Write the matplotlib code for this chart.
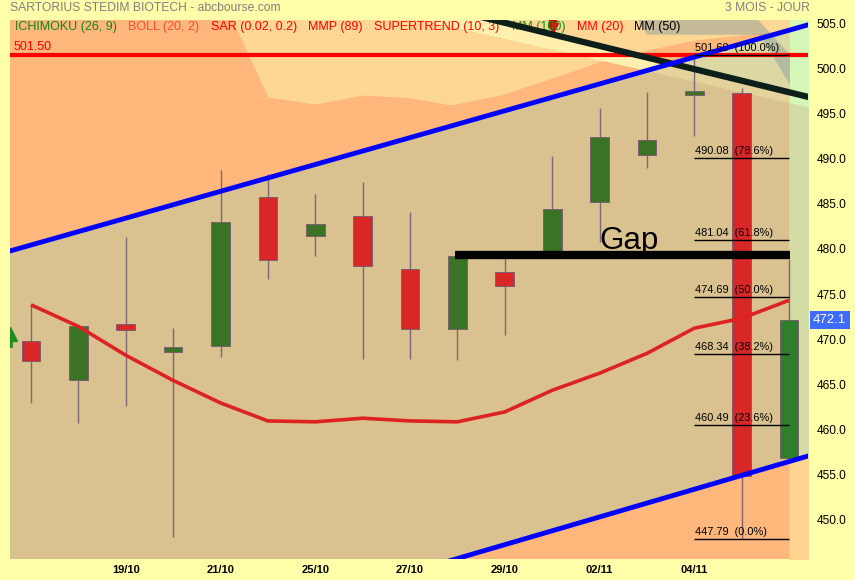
import numpy as np
import matplotlib
matplotlib.use("Agg")
import matplotlib.pyplot as plt
import matplotlib.transforms as mtransforms

plt.rcParams['font.family'] = ['Liberation Sans', 'DejaVu Sans']

# daily candles (17 sessions)
opens = [469.8, 465.4, 471.7, 468.6, 469.2, 485.8, 481.4, 483.7, 477.8, 471.1, 477.4, 479.7, 485.2, 490.4, 497.1, 497.3, 456.8]
closes = [467.6, 471.4, 471.0, 469.1, 483.0, 478.8, 482.8, 478.1, 471.1, 479.2, 475.9, 484.4, 492.4, 492.1, 497.6, 454.8, 472.1]
highs = [473.8, 471.4, 481.3, 471.2, 488.8, 488.3, 486.1, 487.4, 484.1, 479.4, 479.0, 490.3, 495.7, 497.4, 501.6, 497.9, 478.9]
lows = [462.9, 460.7, 462.6, 448.0, 468.0, 476.7, 479.2, 467.8, 467.8, 467.7, 470.5, 479.5, 480.8, 489.0, 492.6, 447.79, 456.5]

# moving average 20
mm20 = [473.8, 471.4, 468.2, 465.4, 462.9, 460.9, 460.8, 461.2, 460.9, 460.8, 461.9, 464.3, 466.2, 468.4, 471.2, 472.3, 474.3]

tick_idx = [2, 4, 6, 8, 10, 12, 14]
tick_labels = ['19/10', '21/10', '25/10', '27/10', '29/10', '02/11', '04/11']

# trend lines (two anchor points each)
upper_trend_x = [-0.443, 16.40]
upper_trend_y = [479.78, 504.9]
lower_trend_x = [8.887, 16.40]
lower_trend_y = [445.44, 457.0]
black_trend_x = [9.58, 16.40]
black_trend_y = [505.67, 496.9]
band_low_x = [9.48, 16.5]
band_low_y = [504.0, 495.67]

# ichimoku-like cloud lower edge
cloud_x = [4.2, 5, 6, 7, 8, 8.85, 9.9, 11, 12, 13, 14, 15, 16]
cloud_low = [506, 496.9, 496.1, 497.1, 496.8, 496.0, 497.1, 499.0, 500.8, 502.1, 503.2, 503.8, 504.3]

gray_x = [12.79, 15.32, 16.02, 16.02, 15.39, 13.0]
gray_y = [505.6, 505.6, 501.56, 498.2, 503.8, 503.8]

resistance = 501.5
gap_level = 479.33
gap_start, gap_end = 8.95, 16.03

fib_levels = [501.60, 490.08, 481.04, 474.69, 468.34, 460.49, 447.79]
fib_pcts = ['100.0%', '78.6%', '61.8%', '50.0%', '38.2%', '23.6%', '0.0%']
fib_start, fib_end = 14, 16

last_price = 472.1

def trend(xs, px, py):
    return np.polyval(np.polyfit(px, py, 1), xs)

salmon = '#FFB77B'
light_orange = '#FFD794'
tan = '#D9C28F'

fig = plt.figure(figsize=(8.55, 5.8), dpi=100, facecolor='#FFFFAA')
ax = fig.add_axes([10/855, 21/580, 798/855, 539/580])
ax.set_facecolor(salmon)
ax.set_xlim(-0.443, 16.40)
ax.set_ylim(445.56, 505.44)

# background zones
ax.fill_between(cloud_x, cloud_low, 506, color=light_orange, lw=0, zorder=0.2)

xs = np.linspace(-0.5, 16, 600)
up = trend(xs, upper_trend_x, upper_trend_y)
lo = trend(xs, lower_trend_x, lower_trend_y)
bl = trend(xs, band_low_x, band_low_y)
blk = trend(xs, black_trend_x, black_trend_y)
ax.fill_between(xs, lo, np.minimum(up, bl), color=tan, lw=0, zorder=0.4)
ax.fill_between(xs, bl, np.minimum(up, blk), where=up > bl, interpolate=True,
                color='#E3D39B', lw=0, zorder=0.4)
ax.fill_between(xs, blk, up, where=up > blk, interpolate=True,
                color='#DCD8A3', lw=0, zorder=0.4)
top_edge = np.maximum(bl, up)
ax.fill_between(xs, top_edge, blk, where=blk > top_edge, interpolate=True,
                color='#FFF0AF', lw=0, zorder=0.4)

# projected cloud column on the right
xc = np.linspace(16, 16.5, 20)
loc = trend(xc, lower_trend_x, lower_trend_y)
blc = trend(xc, band_low_x, band_low_y)
ax.fill_between(xc, 440, loc, color='#FFD58F', lw=0, zorder=0.5)
ax.fill_between(xc, loc, 506, color='#D4F7B7', lw=0, zorder=0.5)
ax.fill_between(xc, loc, blc, color='#D4DCA6', lw=0, zorder=0.5)

ax.fill(gray_x, gray_y, color='#7F9AA0', alpha=0.45, lw=0, zorder=0.6)

# candles
idx = np.arange(len(opens))
o = np.array(opens)
c = np.array(closes)
colors = ['#3B7325' if cc >= oo else '#D92626' for oo, cc in zip(o, c)]
colors[-1] = '#2E7F2A'
ax.vlines(idx, lows, highs, color='#7B6878', lw=1, zorder=2)
ax.bar(idx, np.abs(c - o), bottom=np.minimum(o, c), width=0.395, color=colors,
       edgecolor='#7A6070', lw=0.7, zorder=2.1)

ax.plot(idx, mm20, color='#DD2222', lw=2.6, zorder=2.5, solid_capstyle='butt')

ax.axhline(resistance, color='#FF0000', lw=3, zorder=2.8)
ax.text(-0.37, resistance + 0.25, f'{resistance:.2f}', color='#FF0000', fontsize=9,
        va='bottom', zorder=2.8)

xl = np.array([-0.5, 16.5])
ax.plot(xl, trend(xl, black_trend_x, black_trend_y), color='#0D1F1A', lw=4.5, zorder=3)
ax.plot(xl, trend(xl, upper_trend_x, upper_trend_y), color='#0000FF', lw=3.5, zorder=3.1)
ax.plot(xl, trend(xl, lower_trend_x, lower_trend_y), color='#0000FF', lw=3.5, zorder=3.1)

# fibonacci retracement
for lvl, pct in zip(fib_levels, fib_pcts):
    ax.hlines(lvl, fib_start, fib_end, color='black', lw=1, zorder=4)
    ax.text(fib_start + 0.01, lvl + 0.2, f'{lvl:.2f}  ({pct})', fontsize=7.9,
            va='bottom', ha='left', zorder=4)

# gap
ax.hlines(gap_level, gap_start, gap_end, color='black', lw=6, zorder=4.5)
ax.text(12.0, gap_level + 0.7, 'Gap', fontsize=22.5, va='baseline', ha='left', zorder=5)

# signals
ax.plot([-0.44], [470.6], marker='^', ms=10, color='#1E8C1E', zorder=3, clip_on=True)
ax.vlines(-0.44, 469.0, 470.3, color='#1E8C1E', lw=4, zorder=3)
ax.vlines(11.02, 504.6, 505.5, color='#CC1111', lw=6, zorder=2.7)
ax.plot([11.02], [504.6], marker='v', ms=7, color='#CC1111', zorder=2.7)

# legend row
legend = [('ICHIMOKU (26, 9)', '#118811', 15), ('BOLL (20, 2)', '#FF4A33', 128),
          ('SAR (0.02, 0.2)', '#FF0000', 211), ('MMP (89)', '#FF0000', 308),
          ('SUPERTREND (10, 3)', '#FF0000', 374), ('MM (100)', '#119911', 512),
          ('MM (20)', '#FF0000', 577), ('MM (50)', '#000000', 634)]
for txt, col, px in legend:
    ax.text((px - 10) / 798, (559 - 27) / 539, txt, color=col, fontsize=9,
            transform=ax.transAxes, va='center', ha='left', zorder=2.7)

# axes styling
for s in ax.spines.values():
    s.set_visible(False)
ax.yaxis.tick_right()
ax.set_yticks(np.arange(450, 506, 5))
ax.set_yticklabels([f'{v:.1f}' for v in np.arange(450, 506, 5)], fontsize=8.6)
ax.tick_params(axis='y', length=0, pad=6)
ax.set_xticks(tick_idx)
ax.set_xticklabels(tick_labels, fontsize=8, fontweight='bold')
ax.tick_params(axis='x', length=0, pad=4)

trans = mtransforms.blended_transform_factory(ax.transAxes, ax.transData)
ax.text(1.0065, last_price, f'{last_price:.1f}', color='white', fontsize=9.5,
        transform=trans, va='center', ha='left', zorder=6,
        bbox=dict(boxstyle='square,pad=0.25', fc='#3D6BFF', ec='none'))

fig.text(10/855, 1 - 8/580, 'SARTORIUS STEDIM BIOTECH - abcbourse.com', color='#808080',
         fontsize=8.7, va='center', ha='left')
fig.text(810/855, 1 - 8/580, '3 MOIS - JOUR', color='#808080', fontsize=8.7,
         va='center', ha='right')

fig.savefig('out.png', dpi=100, facecolor=fig.get_facecolor())
